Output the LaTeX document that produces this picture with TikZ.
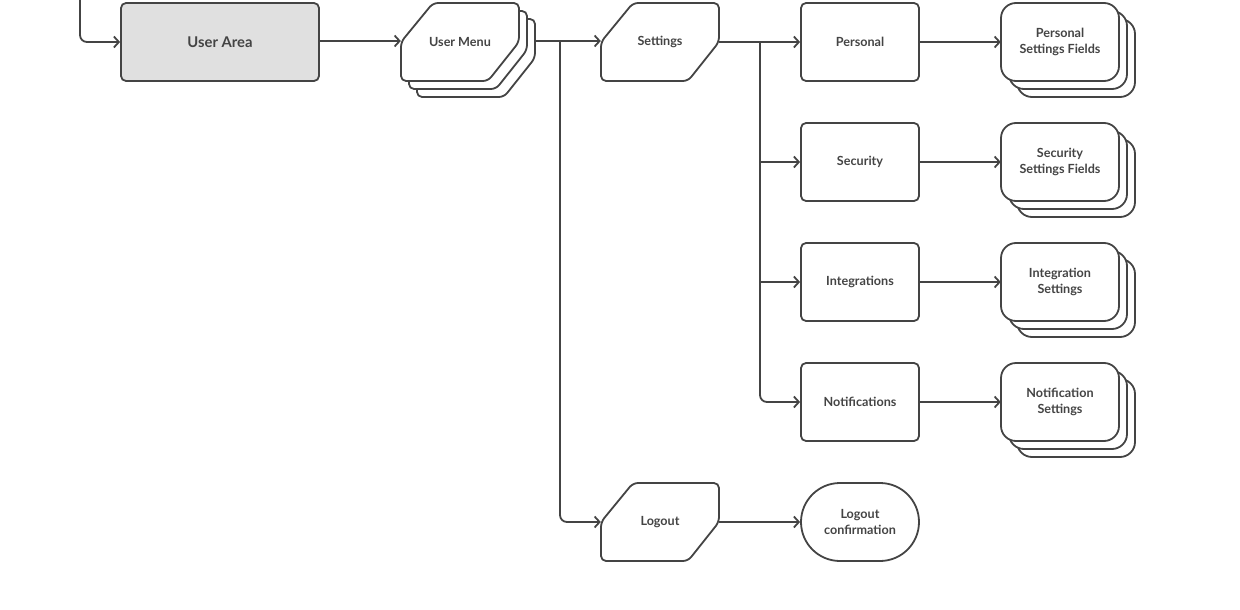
\documentclass[tikz,border=0pt]{standalone}
\usepackage{fontspec}
\setmainfont{Lato}
\usetikzlibrary{arrows.meta}
\definecolor{ink}{HTML}{444444}
\definecolor{uafill}{HTML}{E0E0E0}
\tikzset{
  x=1pt, y=-1pt,
  line/.style={draw=ink, line width=1.8pt, line join=round},
  arr/.style={line, -{Straight Barb[length=5pt,width=11pt,line width=1.8pt]}},
  lbl/.style={draw=none, minimum width=118pt, minimum height=78pt, inner sep=0pt,
    text=ink, font=\bfseries\fontsize{12.6}{16}\selectfont, align=center},
  shp/.style={line, fill=white, rounded corners=5pt},
  stk/.style={line, fill=white, rounded corners=15pt},
}
\newcommand{\cutshape}[3][]{% #2 = cx, #3 = cy
  \draw[shp,#1] ({#2-59},{#3}) -- ({#2-27},{#3-39}) -- ({#2+59},{#3-39}) -- ({#2+59},{#3})
    -- ({#2+28},{#3+39}) -- ({#2-59},{#3+39}) -- cycle;}
\newcommand{\stackrect}[2]{% cx, cy
  \draw[stk] ({#1-43},{#2-23}) rectangle ({#1+75},{#2+55});
  \draw[stk] ({#1-51},{#2-31}) rectangle ({#1+67},{#2+47});
  \draw[stk] ({#1-59},{#2-39}) rectangle ({#1+59},{#2+39});}
\begin{document}
\begin{tikzpicture}
\useasboundingbox (0,0) rectangle (1240,610);
% User Area
\node[lbl, draw=ink, line width=1.8pt, fill=uafill, rounded corners=5pt,
  minimum width=198pt, font=\bfseries\fontsize{14.8}{16}\selectfont] (ua) at (220,42) {User Area};
\coordinate (top) at (80,0);
\draw[arr, rounded corners=7pt] (top) |- (ua.west);
% User Menu (stacked)
\cutshape{476}{58}
\cutshape{468}{50}
\cutshape{460}{42}
\node[lbl] (um) at (460,42) {User Menu};
\coordinate (umr) at (535,41);
\coordinate (j1) at (560,41);
\draw[arr] (ua.east |- umr) -- (um.west |- umr);
% Settings
\cutshape{660}{42}
\node[lbl] (set) at (660,42) {Settings};
\draw[arr] (umr) -- (set.west |- umr);
% Logout
\cutshape{660}{522}
\node[lbl] (lo) at (660,522) {Logout};
\draw[arr, rounded corners=7pt] (j1) |- (lo.west);
% Logout confirmation
\node[lbl, draw=ink, line width=1.8pt, rounded corners=39pt] (lc) at (860,522) {Logout\\confirmation};
\draw[arr] (lo.east) -- (lc.west);
% Settings children
\node[lbl, draw=ink, line width=1.8pt, rounded corners=5pt] (pe) at (860,42) {Personal};
\node[lbl, draw=ink, line width=1.8pt, rounded corners=5pt] (se) at (860,162) {Security};
\node[lbl, draw=ink, line width=1.8pt, rounded corners=5pt] (in) at (860,282) {Integrations};
\node[lbl, draw=ink, line width=1.8pt, rounded corners=5pt] (no) at (860,402) {Notifications};
\coordinate (j2) at (760,42);
\draw[arr] (set.east) -- (pe.west);
\draw[arr] (j2) |- (se.west);
\draw[arr] (j2) |- (in.west);
\draw[arr, rounded corners=7pt] (j2) |- (no.west);
% Stacked fields
\stackrect{1060}{42}
\node[lbl] (pf) at (1060,42) {Personal\\Settings Fields};
\stackrect{1060}{162}
\node[lbl] (sf) at (1060,162) {Security\\Settings Fields};
\stackrect{1060}{282}
\node[lbl] (is) at (1060,282) {Integration\\Settings};
\stackrect{1060}{402}
\node[lbl] (ns) at (1060,402) {Notification\\Settings};
\draw[arr] (pe.east) -- (pf.west);
\draw[arr] (se.east) -- (sf.west);
\draw[arr] (in.east) -- (is.west);
\draw[arr] (no.east) -- (ns.west);
\end{tikzpicture}
\end{document}
